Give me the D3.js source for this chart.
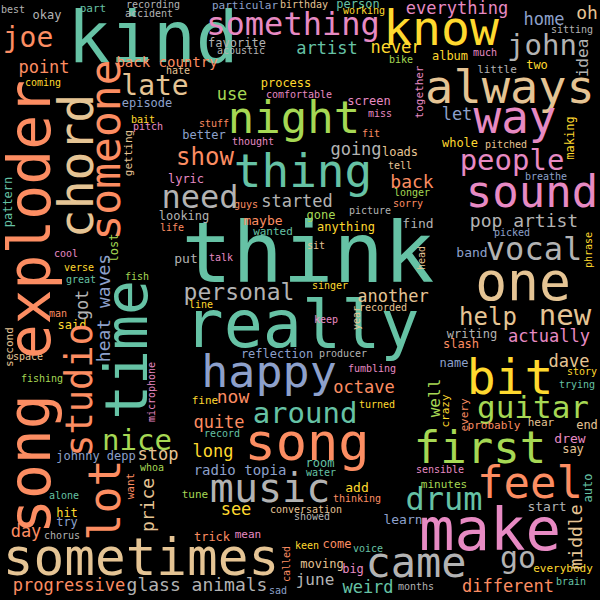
<!DOCTYPE html>
<html>

<head>
  <meta charset="utf-8" />
  <title>Word cloud</title>
  <style>
    body {
      margin: 0;
      background: #000;
    }

    #svg {
      background: #000;
      display: block;
    }

    #svg text {
      font-family: "DejaVu Sans Mono", "Liberation Mono", monospace;
    }
  </style>
</head>

<body>
  <svg id="svg"></svg>

  <script src="https://d3js.org/d3.v7.min.js"></script>
  <script>
    const width = 600
    const height = 600

    // words and how often they came up (biggest = think)
    const words = [
      'think', 'really', 'one', 'kind', 'know', 'always', 'way', 'people', 'sound', 'pop artist',
      'vocal', 'help', 'new', 'actually', 'bit', 'guitar', 'first', 'feel', 'drum', 'make',
      'came', 'go', 'different', 'end', 'hear', 'probably', 'drew', 'say', 'sensible', 'minutes',
      'start', 'learn', 'everybody', 'brain', 'months', 'around', 'song', 'music', 'quite', 'now',
      'fine', 'record', 'long', 'stop', 'reflection', 'happy', 'producer', 'fumbling', 'octave', 'personal',
      'another', 'recorded', 'keep', 'singer', 'line', 'sit', 'talk', 'put', 'wanted', 'maybe',
      'guys', 'started', 'gone', 'anything', 'picture', 'looking', 'life', 'need', 'lyric', 'show',
      'better', 'thought', 'stuff', 'pitch', 'bait', 'episode', 'late', 'back country', 'hate', 'joe',
      'point', 'coming', 'cool', 'verse', 'great', 'man', 'said', 'space', 'fishing', 'fish',
      'nice', 'johnny depp', 'whoa', 'alone', 'hit', 'try', 'day', 'chorus', 'sometimes', 'progressive',
      'glass animals', 'tune', 'trick', 'mean', 'keen', 'come', 'voice', 'moving', 'big', 'june',
      'weird', 'sad', 'see', 'conversation', 'showed', 'add', 'thinking', 'room', 'water', 'radio topia',
      'turned', 'dave', 'story', 'trying', 'name', 'writing', 'slash', 'band', 'picked', 'find',
      'sorry', 'longer', 'back', 'tell', 'loads', 'fit', 'going', 'whole', 'pitched', 'breathe',
      'let', 'little', 'two', 'john', 'album', 'much', 'bike', 'never', 'home', 'oh',
      'sitting', 'everything', 'something', 'person', 'working', 'birthday', 'particular', 'favorite', 'acoustic', 'artist',
      'process', 'use', 'comfortable', 'screen', 'miss', 'night', 'thing', 'best', 'okay', 'part',
      'recording', 'accident', 'song exploder', 'time', 'lot', 'studio', 'chord', 'someone', 'middle', 'auto',
      'every', 'crazy', 'well', 'microphone', 'year', 'getting', 'pattern', 'second', 'lost', 'heat waves',
      'got', 'want', 'price', 'called', 'phrase', 'head', 'making', 'together', 'idea'
    ]

    const freq = [
      84, 65, 53, 71, 48, 47, 46, 29, 44, 18,
      32, 24, 29, 17, 48, 31, 44, 44, 32, 59,
      42, 30, 17, 12, 11, 11, 13, 12, 10, 11,
      13, 13, 11, 10, 10, 29, 52, 40, 17, 18,
      11, 10, 17, 17, 12, 45, 10, 10, 17, 23,
      17, 10, 10, 10, 10, 10, 10, 13, 11, 13,
      10, 17, 12, 12, 10, 12, 10, 32, 12, 24,
      12, 10, 10, 10, 10, 12, 28, 14, 10, 28,
      17, 10, 10, 10, 10, 10, 12, 10, 10, 10,
      29, 12, 10, 10, 12, 12, 17, 10, 51, 17,
      18, 11, 12, 11, 10, 12, 10, 12, 12, 16,
      17, 10, 17, 10, 10, 13, 10, 12, 10, 14,
      10, 17, 10, 10, 12, 12, 12, 13, 10, 13,
      10, 10, 18, 10, 12, 10, 17, 12, 10, 10,
      17, 11, 12, 29, 12, 10, 10, 17, 17, 18,
      10, 17, 32, 12, 10, 10, 11, 12, 10, 17,
      12, 17, 10, 12, 10, 44, 46, 10, 12, 11,
      10, 10, 58, 58, 45, 37, 48, 43, 18, 12,
      11, 11, 16, 10, 10, 11, 12, 11, 12, 18,
      17, 11, 18, 10, 10, 10, 12, 11, 16
    ]

    // placement of each word in the cloud: [x, y, rotate, colour index]
    // horizontal words: x = centre, y = baseline; turned words: x = baseline, y = centre
    const layout = [
      [308, 282, 0, 0], [302, 347, 0, 0], [523, 300, 0, 6], [153, 62, 0, 0], [441, 45, 0, 5],
      [510, 103, 0, 6], [515, 133, 0, 3], [512, 170, 0, 3], [532, 207, 0, 3], [524, 227, 0, 7],
      [534, 260, 0, 7], [488, 325, 0, 6], [565, 325, 0, 6], [549, 342, 0, 3], [510, 394, 0, 5],
      [533, 418, 0, 4], [480, 463, 0, 4], [530, 498, 0, 1], [444, 510, 0, 0], [490, 550, 0, 3],
      [416, 577, 0, 7], [518, 568, 0, 7], [508, 592, 0, 1], [587, 429, 0, 6], [541, 426, 0, 6],
      [494, 429, 0, 1], [570, 443, 0, 3], [573, 453, 0, 6], [440, 473, 0, 3], [444, 488, 0, 4],
      [547, 511, 0, 7], [403, 524, 0, 2], [563, 572, 0, 5], [571, 585, 0, 0], [416, 590, 0, 7],
      [305, 423, 0, 0], [307, 460, 0, 1], [270, 502, 0, 7], [219, 428, 0, 1], [233, 403, 0, 1],
      [205, 404, 0, 5], [222, 437, 0, 0], [213, 457, 0, 5], [158, 460, 0, 6], [277, 358, 0, 2],
      [269, 387, 0, 2], [343, 357, 0, 7], [372, 372, 0, 3], [364, 393, 0, 1], [239, 300, 0, 7],
      [393, 302, 0, 6], [383, 311, 0, 6], [326, 323, 0, 3], [330, 289, 0, 5], [201, 308, 0, 5],
      [316, 249, 0, 6], [221, 261, 0, 3], [186, 263, 0, 7], [273, 235, 0, 0], [263, 225, 0, 1],
      [246, 208, 0, 1], [297, 207, 0, 7], [321, 219, 0, 4], [346, 231, 0, 5], [370, 214, 0, 7],
      [184, 220, 0, 7], [172, 231, 0, 1], [200, 208, 0, 7], [186, 183, 0, 3], [205, 165, 0, 1],
      [204, 139, 0, 2], [253, 145, 0, 3], [214, 127, 0, 1], [148, 130, 0, 3], [143, 123, 0, 5],
      [147, 107, 0, 2], [155, 95, 0, 6], [167, 67, 0, 1], [178, 74, 0, 6], [28, 47, 0, 1],
      [44, 73, 0, 1], [43, 86, 0, 5], [66, 257, 0, 3], [79, 271, 0, 5], [81, 283, 0, 0],
      [58, 317, 0, 1], [72, 329, 0, 5], [28, 360, 0, 6], [42, 382, 0, 4], [137, 280, 0, 4],
      [137, 450, 0, 4], [96, 460, 0, 2], [152, 471, 0, 4], [64, 499, 0, 0], [67, 517, 0, 5],
      [67, 526, 0, 2], [26, 537, 0, 1], [62, 539, 0, 7], [141, 575, 0, 6], [69, 591, 0, 1],
      [197, 591, 0, 7], [195, 498, 0, 4], [212, 541, 0, 1], [248, 538, 0, 3], [307, 549, 0, 5],
      [337, 548, 0, 1], [368, 552, 0, 0], [322, 568, 0, 6], [353, 573, 0, 3], [315, 585, 0, 7],
      [368, 593, 0, 0], [278, 594, 0, 2], [236, 515, 0, 5], [306, 513, 0, 6], [312, 520, 0, 7],
      [357, 492, 0, 5], [357, 502, 0, 1], [320, 467, 0, 0], [321, 476, 0, 0], [240, 475, 0, 2],
      [377, 408, 0, 5], [569, 367, 0, 6], [582, 375, 0, 5], [577, 388, 0, 0], [454, 367, 0, 2],
      [472, 338, 0, 7], [461, 348, 0, 1], [472, 257, 0, 2], [512, 236, 0, 2], [418, 228, 0, 7],
      [408, 207, 0, 1], [412, 196, 0, 4], [412, 188, 0, 1], [400, 169, 0, 6], [400, 156, 0, 6],
      [371, 137, 0, 1], [356, 155, 0, 7], [460, 147, 0, 5], [506, 148, 0, 6], [546, 180, 0, 2],
      [457, 120, 0, 2], [497, 73, 0, 7], [537, 69, 0, 5], [542, 55, 0, 7], [450, 60, 0, 5],
      [485, 56, 0, 3], [401, 63, 0, 4], [396, 53, 0, 5], [544, 25, 0, 2], [587, 19, 0, 6],
      [572, 33, 0, 7], [457, 14, 0, 3], [293, 35, 0, 3], [358, 8, 0, 0], [364, 14, 0, 5],
      [304, 8, 0, 6], [245, 9, 0, 2], [237, 47, 0, 7], [241, 54, 0, 7], [327, 54, 0, 0],
      [286, 87, 0, 5], [232, 100, 0, 4], [299, 98, 0, 3], [369, 105, 0, 3], [380, 117, 0, 3],
      [294, 133, 0, 4], [303, 187, 0, 0], [13, 13, 0, 7], [47, 19, 0, 7], [93, 12, 0, 0],
      [153, 8, 0, 7], [149, 17, 0, 7],
      [50, 307, -90, 1], [147, 350, -90, 0], [120, 500, -90, 1], [92, 390, -90, 1], [93, 166, -90, 6],
      [120, 150, -90, 1], [582, 537, -90, 6], [592, 488, -90, 0], [468, 415, -90, 1], [449, 411, -90, 5],
      [440, 398, -90, 4], [155, 392, -90, 3], [360, 318, -90, 6], [132, 153, -90, 6], [12, 202, -90, 0],
      [13, 347, -90, 6], [118, 248, -90, 4], [110, 308, -90, 2], [88, 305, -90, 7], [134, 486, -90, 1],
      [154, 505, -90, 6], [290, 564, -90, 1], [592, 250, -90, 5], [425, 258, -90, 6], [574, 138, -90, 5],
      [423, 92, -90, 3], [588, 58, -90, 7]
    ]

    var svg = d3.select('#svg')
      .attr('width', width)
      .attr('height', height)

    const x = d3.scaleLinear().domain([0, 600]).range([0, width])
    const y = d3.scaleLinear().domain([0, 600]).range([0, height])
    const size = d3.scaleLinear().domain([0, d3.max(freq)]).range([0, 84])
    const color = d3.scaleOrdinal().domain(d3.range(8)).range(d3.schemeSet2)

    svg.selectAll('text')
      .data(words)
      .join('text')
      .attr('transform', (d, i) => {
        const p = layout[i]
        return `translate(${x(p[0])},${y(p[1])}) rotate(${p[2]})`
      })
      .attr('text-anchor', 'middle')
      .style('font-size', (d, i) => size(freq[i]) + 'px')
      .attr('fill', (d, i) => color(layout[i][3]))
      .text(d => d)
  </script>
</body>

</html>
